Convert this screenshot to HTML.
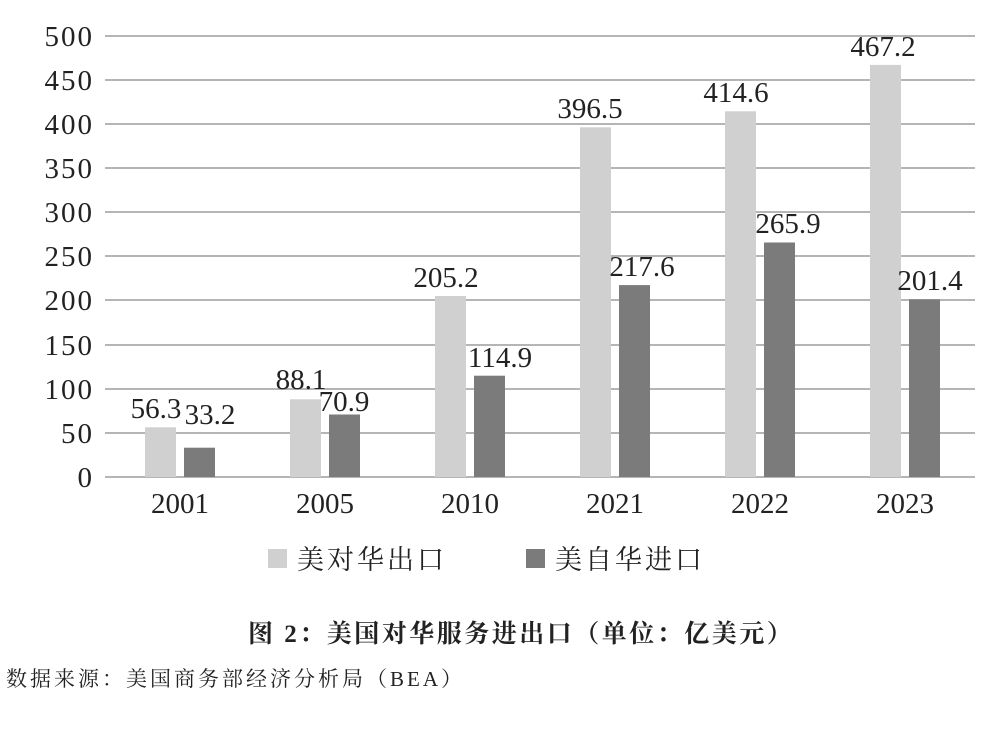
<!DOCTYPE html>
<html><head><meta charset="utf-8"><style>
body{margin:0;background:#fff;width:1000px;height:726px;overflow:hidden}
svg text{font-family:"Liberation Serif","Noto Serif CJK SC",serif;fill:#222}
</style></head><body>
<svg width="1000" height="726" xmlns="http://www.w3.org/2000/svg">
<g stroke="#b5b5b5" stroke-width="2">
<line x1="105" x2="975" y1="36" y2="36"/><line x1="105" x2="975" y1="80" y2="80"/>
<line x1="105" x2="975" y1="124" y2="124"/><line x1="105" x2="975" y1="168" y2="168"/>
<line x1="105" x2="975" y1="212" y2="212"/><line x1="105" x2="975" y1="256" y2="256"/>
<line x1="105" x2="975" y1="300" y2="300"/><line x1="105" x2="975" y1="345" y2="345"/>
<line x1="105" x2="975" y1="389" y2="389"/><line x1="105" x2="975" y1="433" y2="433"/>
<line x1="105" x2="975" y1="477" y2="477"/>
</g>
<g font-size="29" text-anchor="end" letter-spacing="2">
<text x="94" y="46">500</text><text x="94" y="90">450</text><text x="94" y="134">400</text>
<text x="94" y="178">350</text><text x="94" y="222">300</text><text x="94" y="266">250</text>
<text x="94" y="310">200</text><text x="94" y="355">150</text><text x="94" y="399">100</text>
<text x="94" y="443">50</text><text x="94" y="487">0</text>
</g>
<g fill="#d0d0d0">
<rect x="145" y="427.3" width="31" height="49.7"/>
<rect x="290" y="399.3" width="31" height="77.7"/>
<rect x="435" y="296" width="31" height="181"/>
<rect x="580" y="127.3" width="31" height="349.7"/>
<rect x="725" y="111.3" width="31" height="365.7"/>
<rect x="870" y="64.9" width="31" height="412.1"/>
</g>
<g fill="#7b7b7b">
<rect x="184" y="447.7" width="31" height="29.3"/>
<rect x="329" y="414.5" width="31" height="62.5"/>
<rect x="474" y="375.7" width="31" height="101.3"/>
<rect x="619" y="285.1" width="31" height="191.9"/>
<rect x="764" y="242.5" width="31" height="234.5"/>
<rect x="909" y="299.4" width="31" height="177.6"/>
</g>
<g font-size="29" text-anchor="middle">
<text x="156" y="418">56.3</text><text x="210" y="424">33.2</text>
<text x="301" y="389">88.1</text><text x="344" y="411">70.9</text>
<text x="446" y="287">205.2</text><text x="500" y="367">114.9</text>
<text x="590" y="118">396.5</text><text x="642" y="276">217.6</text>
<text x="736" y="102">414.6</text><text x="788" y="233">265.9</text>
<text x="883" y="56">467.2</text><text x="930" y="290">201.4</text>
</g>
<g font-size="29" text-anchor="middle">
<text x="180" y="513">2001</text><text x="325" y="513">2005</text><text x="470" y="513">2010</text>
<text x="615" y="513">2021</text><text x="760" y="513">2022</text><text x="905" y="513">2023</text>
</g>
<rect x="268" y="549" width="19" height="19" fill="#d0d0d0"/>
<text x="297" y="569" font-size="27" letter-spacing="3">美对华出口</text>
<rect x="526" y="549" width="19" height="19" fill="#7b7b7b"/>
<text x="555" y="569" font-size="27" letter-spacing="3">美自华进口</text>
<text x="248" y="642" font-size="25" font-weight="bold" letter-spacing="2.5">图 2：美国对华服务进出口（单位：亿美元）</text>
<text x="6" y="686" font-size="21" letter-spacing="3">数据来源：美国商务部经济分析局（BEA）</text>
</svg>
</body></html>
